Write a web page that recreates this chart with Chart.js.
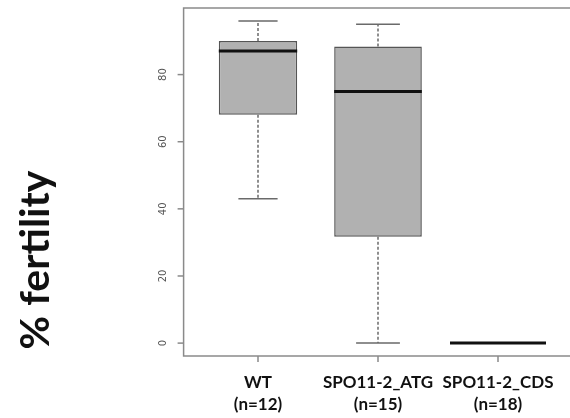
<!DOCTYPE html>
<html>
<head>
<meta charset="utf-8">
<script src="https://cdn.jsdelivr.net/npm/chart.js@4.4.1/dist/chart.umd.min.js"></script>
<style>
  html, body { margin: 0; padding: 0; background: #fff; overflow: hidden; }
  #wrap { position: relative; width: 575px; height: 418px; }
</style>
</head>
<body>
<div id="wrap"><canvas id="c"></canvas></div>
<script>
// ---- data ----
const categories = ["WT", "SPO11-2_ATG", "SPO11-2_CDS"];
const nLabels = ["(n=12)", "(n=15)", "(n=18)"];
const nCounts = [12, 15, 18];
const whiskerLow = [43, 0, 0];
const q1 = [68, 31.7, 0];
const medians = [87, 75, 0];
const q3 = [90, 88.4, 0];
const whiskerHigh = [96, 95, 0];
const yTicks = [0, 20, 40, 60, 80];
const yTitle = "% fertility";

const maxN = Math.max(...nCounts);
const relWidth = nCounts.map(n => 0.8 * Math.sqrt(n / maxN)); // box width in x units

const datasets = categories.map((c, i) => ({
  label: c,
  data: [{ x: i + 1, y: [q1[i], q3[i]] }],
  backgroundColor: '#b1b1b1',
  borderColor: '#555555',
  borderWidth: 1.5,
  borderSkipped: false,
  grouped: false,
  categoryPercentage: 1,
  barPercentage: relWidth[i]
}));

const boxPlugin = {
  id: 'boxExtras',
  afterDatasetsDraw(chart) {
    const { ctx, chartArea: a, scales: { x, y } } = chart;
    ctx.save();
    categories.forEach((c, i) => {
      const cx = x.getPixelForValue(i + 1);
      const half = (x.getPixelForValue(i + 1 + relWidth[i] / 2) - x.getPixelForValue(i + 1 - relWidth[i] / 2)) / 2;
      // whiskers
      ctx.strokeStyle = '#6a6a6a';
      ctx.lineWidth = 1.5;
      ctx.setLineDash([3, 2]);
      ctx.beginPath();
      ctx.moveTo(cx, y.getPixelForValue(q3[i]));
      ctx.lineTo(cx, y.getPixelForValue(whiskerHigh[i]));
      ctx.moveTo(cx, y.getPixelForValue(q1[i]));
      ctx.lineTo(cx, y.getPixelForValue(whiskerLow[i]));
      ctx.stroke();
      ctx.setLineDash([]);
      // caps
      if (whiskerHigh[i] !== q3[i] || whiskerLow[i] !== q1[i]) {
        ctx.beginPath();
        ctx.moveTo(cx - half / 2, y.getPixelForValue(whiskerHigh[i]));
        ctx.lineTo(cx + half / 2, y.getPixelForValue(whiskerHigh[i]));
        ctx.moveTo(cx - half / 2, y.getPixelForValue(whiskerLow[i]));
        ctx.lineTo(cx + half / 2, y.getPixelForValue(whiskerLow[i]));
        ctx.stroke();
      }
      // median
      ctx.strokeStyle = '#111111';
      ctx.lineWidth = 3;
      ctx.beginPath();
      ctx.moveTo(cx - half, y.getPixelForValue(medians[i]));
      ctx.lineTo(cx + half, y.getPixelForValue(medians[i]));
      ctx.stroke();
    });

    // frame
    ctx.strokeStyle = '#8a8a8a';
    ctx.lineWidth = 1.5;
    ctx.strokeRect(a.left, a.top, a.right - a.left, a.bottom - a.top);

    // y ticks + rotated labels
    ctx.fillStyle = '#555555';
    ctx.font = '10px "DejaVu Sans"';
    ctx.textAlign = 'center';
    ctx.textBaseline = 'middle';
    yTicks.forEach(v => {
      const py = y.getPixelForValue(v);
      ctx.beginPath();
      ctx.moveTo(a.left - 6, py);
      ctx.lineTo(a.left, py);
      ctx.stroke();
      ctx.save();
      ctx.translate(a.left - 20, py);
      ctx.rotate(-Math.PI / 2);
      ctx.fillText(String(v), 0, 0);
      ctx.restore();
    });

    // x ticks + labels
    categories.forEach((c, i) => {
      const px = x.getPixelForValue(i + 1);
      ctx.strokeStyle = '#8a8a8a';
      ctx.beginPath();
      ctx.moveTo(px, a.bottom);
      ctx.lineTo(px, a.bottom + 6);
      ctx.stroke();
      ctx.fillStyle = '#111111';
      ctx.font = 'bold 17px Lato';
      ctx.textBaseline = 'alphabetic';
      ctx.fillText(c, px, 388);
      ctx.fillText(nLabels[i], px, 410);
      ctx.textBaseline = 'middle';
    });

    // y title
    ctx.save();
    ctx.translate(36, 260);
    ctx.rotate(-Math.PI / 2);
    ctx.font = 'bold 41px Lato';
    ctx.fillStyle = '#111111';
    ctx.fillText(yTitle, 0, 0);
    ctx.restore();
    ctx.restore();
  }
};

new Chart(document.getElementById('c'), {
  type: 'bar',
  data: { datasets },
  options: {
    responsive: true,
    maintainAspectRatio: false,
    animation: false,
    layout: { padding: { left: 183.6, top: 8, right: 2.6, bottom: 62 } },
    plugins: { legend: { display: false }, tooltip: { enabled: false } },
    scales: {
      x: {
        type: 'linear', min: 0.38, max: 3.62, offset: false, display: false,
        afterBuildTicks: axis => { axis.ticks = categories.map((c, i) => ({ value: i + 1 })); }
      },
      y: { type: 'linear', min: -3.84, max: 99.84, display: false }
    }
  },
  plugins: [boxPlugin]
});
</script>
</body>
</html>
